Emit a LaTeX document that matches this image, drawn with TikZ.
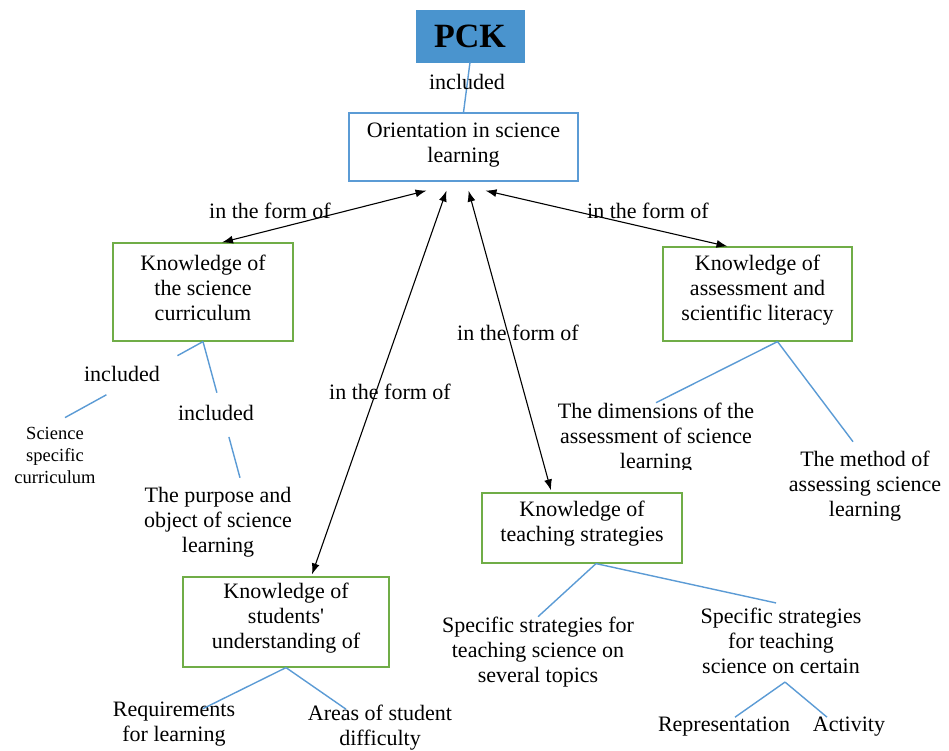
\documentclass[tikz,border=0pt]{standalone}
\usepackage{fontspec}
\setmainfont{Liberation Serif}
\usetikzlibrary{arrows.meta,calc}
\definecolor{kgreen}{RGB}{112,173,71}
\definecolor{lblue}{RGB}{91,155,213}
\definecolor{pckblue}{RGB}{74,148,206}

\begin{document}
\begin{tikzpicture}[x=1pt,y=-1pt,
  txt/.style={font=\fontsize{22}{25}\selectfont, align=center, inner sep=0pt},
  smalltxt/.style={font=\fontsize{18.5}{22}\selectfont, align=center, inner sep=0pt},
  kbox/.style={draw=kgreen, line width=1.2pt, inner sep=0pt},
  link/.style={draw=lblue, line width=1.4pt},
  arr/.style={draw=black, line width=1.1pt,
    {Latex[length=11pt,width=8pt]}-{Latex[length=11pt,width=8pt]}},
]
% canvas
\fill[white] (0,0) rectangle (949,750);
\useasboundingbox (0,0) rectangle (949,750);

% ---- top: PCK and orientation
\node[fill=pckblue, draw=pckblue, minimum width=108pt, minimum height=52pt,
      font=\fontsize{34}{36}\selectfont\bfseries] (pck) at (470,36) {PCK};
\node[draw=lblue, line width=1.2pt, minimum width=229pt, minimum height=68pt,
      label={[txt,yshift=2pt]center:Orientation in science\\learning}] (orient) at (463.5,147) {};
\draw[link] (pck.south) -- (orient.north);
\node[txt] (inc1) at (467,82) {included};

% ---- the four knowledge boxes
\node[kbox, minimum width=180pt, minimum height=98pt,
      label={[txt,yshift=4pt]center:Knowledge of\\the science\\curriculum}] (cur) at (203,292) {};
\node[kbox, minimum width=189pt, minimum height=94pt,
      label={[txt,yshift=3.5pt]center:Knowledge of\\assessment and\\scientific literacy}] (asm) at (757.5,294) {};
\node[kbox, minimum width=200pt, minimum height=70pt,
      label={[txt,yshift=4.5pt]center:Knowledge of\\teaching strategies}] (tch) at (582,528) {};
\node[kbox, minimum width=206pt, minimum height=90pt,
      label={[txt,yshift=4pt]center:Knowledge of\\students\textquotesingle\\understanding of}] (stu) at (286,622) {};

% ---- double arrows to the orientation box
\draw[arr] ($(cur.north)+(19,0)$) -- ($(orient.south)+(-37,9)$);
\draw[arr] ($(stu.north)+(26,-2)$) -- ($(orient.south)+(-17,9)$);
\draw[arr] ($(tch.north)+(-31,-2)$) -- ($(orient.south)+(5,9)$);
\draw[arr] ($(asm.north)+(-30,0)$) -- ($(orient.south)+(22,9)$);
\node[txt] (f1) at (270,211) {in the form of};
\node[txt] (f2) at (648,211) {in the form of};
\node[txt] (f3) at (518,333) {in the form of};
\node[txt] (f4) at (390,392) {in the form of};

% ---- curriculum branch
\node[smalltxt] (ssc) at (55,455) {Science\\specific\\curriculum};
\node[txt] (purp) at (218,522) {The purpose and\\object of science\\learning};
\coordinate (sscT) at ($(ssc.north)+(10,-9)$);
\coordinate (purpT) at ($(purp.north)+(22,-9)$);
\path (cur.south) -- (sscT) coordinate[pos=0.185] (c1a) coordinate[pos=0.70] (c1b);
\path (cur.south) -- (purpT) coordinate[pos=0.375] (c2a) coordinate[pos=0.70] (c2b);
\draw[link] (cur.south) -- (c1a) (c1b) -- (sscT);
\draw[link] (cur.south) -- (c2a) (c2b) -- (purpT);
\node[txt] (inc2) at (122,374) {included};
\node[txt] (inc3) at (216,413) {included};

% ---- assessment branch
\begin{scope}
  \clip (540,390) rectangle (790,469);
  \node[txt] (dim) at (656,438) {The dimensions of the\\assessment of science\\learning};
\end{scope}
\node[txt] (meth) at (865,486) {The method of\\assessing science\\learning};
\coordinate (asmB) at ($(asm.south)+(20,0)$);
\draw[link] (asmB) -- (dim.north);
\draw[link] (asmB) -- ($(meth.north)+(-12,-9)$);

% ---- teaching strategies branch
\node[txt] (sev) at (538,652) {Specific strategies for\\teaching science on\\several topics};
\node[txt] (cert) at (781,641) {Specific strategies\\for teaching\\science on certain};
\coordinate (tchB) at ($(tch.south)+(14,0)$);
\draw[link] (tchB) -- (sev.north);
\draw[link] (tchB) -- ($(cert.north)+(-5,-5)$);
\node[txt] (rep) at (724,727) {Representation};
\node[txt] (act) at (849,727) {Activity};
\coordinate (certB) at ($(cert.south)+(4,8)$);
\draw[link] (certB) -- ($(rep.north)+(11,0)$);
\draw[link] (certB) -- ($(act.north)+(-22,0)$);

% ---- students' understanding branch
\node[txt] (req) at (174,724) {Requirements\\for learning};
\node[txt] (area) at (380,728) {Areas of student\\difficulty};
\draw[link] (stu.south) -- ($(req.north)+(29,7)$);
\draw[link] (stu.south) -- ($(area.north)+(-34,4)$);
\end{tikzpicture}
\end{document}
